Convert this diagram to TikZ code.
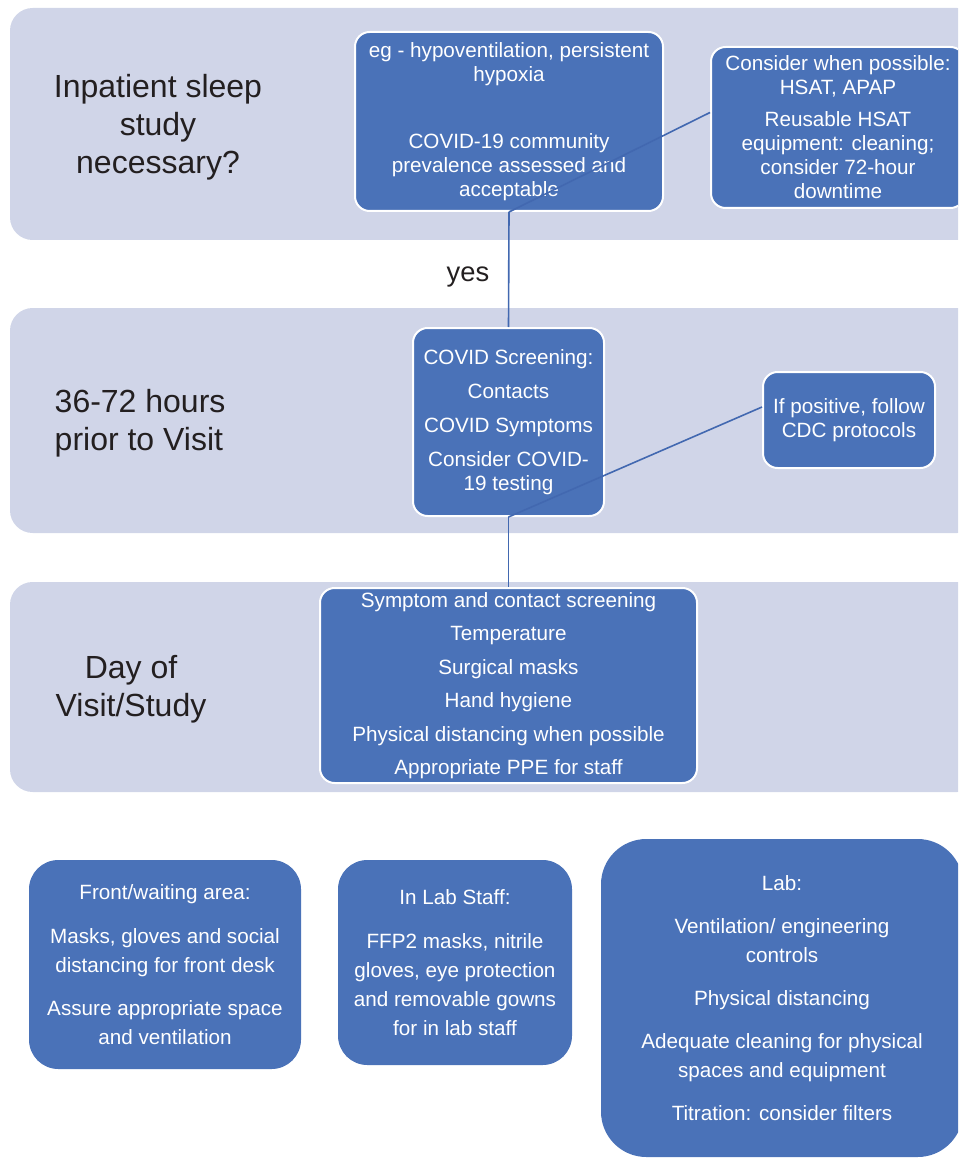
\documentclass[tikz,border=0pt]{standalone}
\usepackage{fontspec}
\setmainfont{Liberation Sans}
\usetikzlibrary{positioning,calc}

\definecolor{bandfill}{RGB}{208,213,232}
\definecolor{boxblue}{RGB}{74,114,184}
\definecolor{linkblue}{RGB}{66,104,176}
\definecolor{labelgray}{RGB}{35,31,32}

\begin{document}
\begin{tikzpicture}[x=0.75pt, y=-0.75pt,
    band/.style={fill=bandfill, rounded corners=17pt, minimum width=727.5pt},
    bluebox/.style={draw=white, line width=1.5pt, fill=boxblue, text=white, align=center,
        rounded corners=11pt, inner sep=0pt, font=\fontsize{15.5}{18}\selectfont},
    lowbox/.style={fill=boxblue, text=white, align=center, inner sep=0pt,
        font=\fontsize{15.5}{21.75}\selectfont},
    rowlabel/.style={text=labelgray, font=\fontsize{24}{28.5}\selectfont},
    link/.style={draw=linkblue, line width=1.2pt}]

  \useasboundingbox (0,0) rectangle (958,1162);
  \clip (0,0) rectangle (958,1162);

  % background bands
  \node (band1) [band, minimum height=174pt] at (495,124) {};
  \node (band2) [band, minimum height=168.75pt] at (495,420.5) {};
  \node (band3) [band, minimum height=157.5pt] at (495,687) {};

  % row labels
  \node (inpat) [rowlabel, align=center] at (158,127) {Inpatient sleep\\ study\\ necessary?};
  \node (prior) [rowlabel, align=left, anchor=west] at (50,423) {36-72 hours\\ prior to Visit};
  \node (dayof) [rowlabel, align=center] at (131,689) {Day of\\ Visit/Study};
  \node (yes) [text=labelgray, font=\fontsize{20.5}{24}\selectfont] at (468,277) {yes};

  % top band
  \node (boxA) [bluebox, minimum width=231pt, minimum height=134.25pt] at (509,121.5)
    {eg - hypoventilation, persistent\\ hypoxia\\[32pt] COVID-19 community\\ prevalence assessed and\\ acceptable};
  \node (boxB) [bluebox, minimum width=190.5pt, minimum height=120.75pt] at (838,127.5)
    {Consider when possible:\\ HSAT, APAP\\[6pt] Reusable HSAT\\ equipment: cleaning;\\ consider 72-hour\\ downtime};

  % middle band
  \node (boxC) [bluebox, minimum width=143.25pt, minimum height=141pt] at (508.5,422)
    {COVID Screening:\\[7.5pt] Contacts\\[7.5pt] COVID Symptoms\\[7.5pt] Consider COVID-\\ 19 testing};
  \node (boxD) [bluebox, minimum width=129pt, minimum height=72pt] at (849,420)
    {If positive, follow\\ CDC protocols};

  % day of visit
  \node (boxE) [bluebox, minimum width=282.75pt, minimum height=146.25pt] at (508.5,685.5)
    {Symptom and contact screening\\[7.1pt] Temperature\\[7.1pt] Surgical masks\\[7.1pt]
     Hand hygiene\\[7.1pt] Physical distancing when possible\\[7.1pt] Appropriate PPE for staff};

  % bottom boxes
  \node (front) [lowbox, rounded corners=22pt, minimum width=204pt, minimum height=156.75pt] at (165,964.5)
    {Front/waiting area:\\[11pt] Masks, gloves and social\\ distancing for front desk\\[10.5pt]
     Assure appropriate space\\ and ventilation};
  \node (staff) [lowbox, rounded corners=22pt, minimum width=175.5pt, minimum height=153.75pt] at (455,962.5)
    {In Lab Staff:\\[11pt] FFP2 masks, nitrile\\ gloves, eye protection\\ and removable gowns\\ for in lab staff};
  \node (lab) [lowbox, rounded corners=34pt, minimum width=271.5pt, minimum height=238.5pt] at (782,998)
    {Lab:\\[10.5pt] Ventilation/ engineering\\ controls\\[10.5pt] Physical distancing\\[10.5pt]
     Adequate cleaning for physical\\ spaces and equipment\\[10.5pt] Titration: consider filters};

  % connectors
  \draw[link] (boxA.south) -- (boxC.north);
  \draw[link] (boxA.south) -- ($(boxB.west)+(0,-15)$);
  \draw[link] (boxC.south) -- ($(boxD.west)+(0,-13)$);
  \draw[link] (boxC.south) -- (boxE.north);
\end{tikzpicture}
\end{document}
